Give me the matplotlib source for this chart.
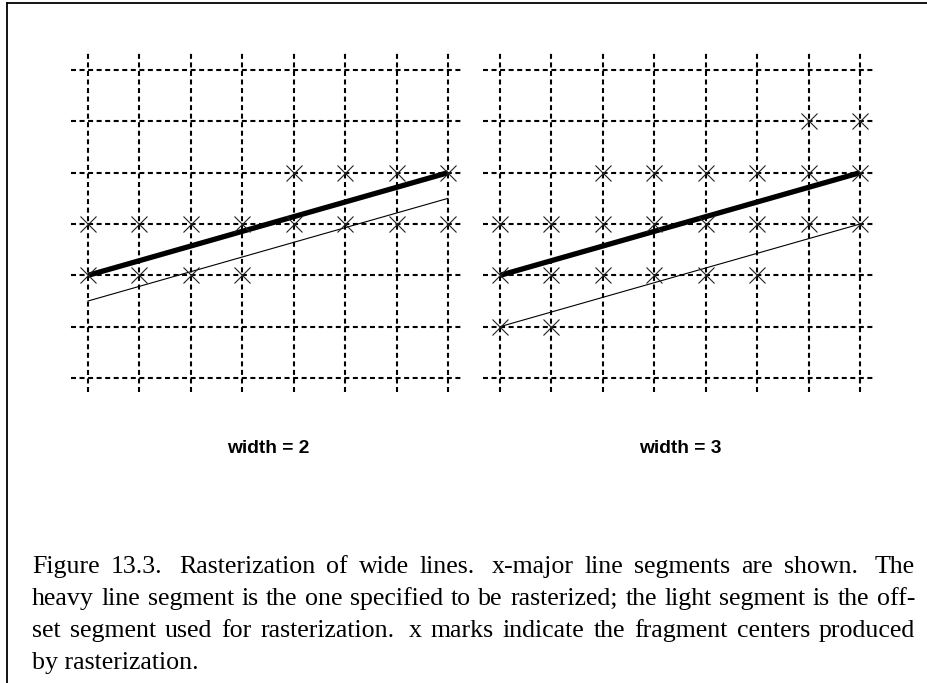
import matplotlib
matplotlib.use("Agg")
import matplotlib.pyplot as plt
from matplotlib.lines import Line2D

# grid of pixel centers
grid_cols = [0, 1, 2, 3, 4, 5, 6, 7]
grid_rows = [0, 1, 2, 3, 4, 5, 6]

# width = 2 panel
heavy_w2_x = [0, 7]
heavy_w2_y = [2, 4]
light_w2_x = [0, 7]
light_w2_y = [1.5, 3.5]
marks_w2_x = [0, 1, 2, 3, 0, 1, 2, 3, 4, 5, 6, 7, 4, 5, 6, 7]
marks_w2_y = [2, 2, 2, 2, 3, 3, 3, 3, 3, 3, 3, 3, 4, 4, 4, 4]

# width = 3 panel
heavy_w3_x = [0, 7]
heavy_w3_y = [2, 4]
light_w3_x = [0, 7]
light_w3_y = [1, 3]
marks_w3_x = [0, 1,
              0, 1, 2, 3, 4, 5,
              0, 1, 2, 3, 4, 5, 6, 7,
              2, 3, 4, 5, 6, 7,
              6, 7]
marks_w3_y = [1, 1,
              2, 2, 2, 2, 2, 2,
              3, 3, 3, 3, 3, 3, 3, 3,
              4, 4, 4, 4, 4, 4,
              5, 5]

panel_labels = ["width = 2", "width = 3"]

caption_lines = [
    "Figure 13.3.  Rasterization of wide lines.  x-major line segments are shown.  The",
    "heavy line segment is the one specified to be rasterized; the light segment is the off-",
    "set segment used for rasterization.  x marks indicate the fragment centers produced",
    "by rasterization.",
]

W, H = 928, 683
fig = plt.figure(figsize=(W / 100, H / 100), dpi=100)
fig.patch.set_facecolor("white")

step_x = 51.43
step_y = 51.33


def make_axes(col0_px, row0_px):
    # axes spanning data -0.5..7.5 in x and -0.5..6.5 in y
    left = (col0_px - 0.5 * step_x) / W
    bottom = (H - (row0_px + 0.5 * step_y)) / H
    ax = fig.add_axes([left, bottom, 8 * step_x / W, 7 * step_y / H])
    ax.set_xlim(-0.5, 7.5)
    ax.set_ylim(-0.5, 6.5)
    ax.axis("off")
    return ax


def draw_panel(ax, hx, hy, lx, ly, mx, my, label):
    dash = (0, (2.4, 1.7))
    ax.hlines(grid_rows, -0.34, 7.3, colors="black", linewidth=1.5,
              linestyles=[dash])
    ax.vlines(grid_cols, -0.28, 6.33, colors="black", linewidth=1.5,
              linestyles=[dash])
    ax.plot(hx, hy, color="black", linewidth=3.8, solid_capstyle="butt")
    ax.plot(lx, ly, color="black", linewidth=0.8)
    ax.plot(mx, my, linestyle="none", marker="x", markersize=12,
            markeredgewidth=0.8, color="#222222")
    ax.text(3.5, -1.38, label, ha="center", va="center",
            family="Liberation Sans", fontweight="bold", fontsize=13.8,
            clip_on=False)


ax1 = make_axes(88, 378)
ax2 = make_axes(500, 378)
draw_panel(ax1, heavy_w2_x, heavy_w2_y, light_w2_x, light_w2_y,
           marks_w2_x, marks_w2_y, panel_labels[0])
draw_panel(ax2, heavy_w3_x, heavy_w3_y, light_w3_x, light_w3_y,
           marks_w3_x, marks_w3_y, panel_labels[1])

# page frame (top and left edges)
fig.add_artist(Line2D([7 / W, 1], [1 - 3 / H, 1 - 3 / H], color="black",
                      linewidth=1.3))
fig.add_artist(Line2D([7 / W, 7 / W], [0, 1 - 3 / H], color="black",
                      linewidth=1.3))

# justified caption
renderer = fig.canvas.get_renderer()
x_left, x_right = 32, 915
baselines = [573, 605, 637, 669]
cap_kw = dict(family="Liberation Serif", fontsize=18.6, va="baseline",
              ha="left")

for i, line in enumerate(caption_lines):
    yb = 1 - baselines[i] / H
    if i == len(caption_lines) - 1:
        fig.text(x_left / W, yb, line, **cap_kw)
        continue
    words = line.split()
    texts = [fig.text(0, yb, w, **cap_kw) for w in words]
    widths = [t.get_window_extent(renderer).width for t in texts]
    # wider gap after sentence ends
    weights = [1.6 if w.endswith(".") else 1.0 for w in words[:-1]]
    free = (x_right - x_left) - sum(widths)
    unit = free / sum(weights)
    x = x_left
    for j, t in enumerate(texts):
        t.set_x(x / W)
        if j < len(weights):
            x += widths[j] + unit * weights[j]

fig.savefig("out.png", dpi=100)
